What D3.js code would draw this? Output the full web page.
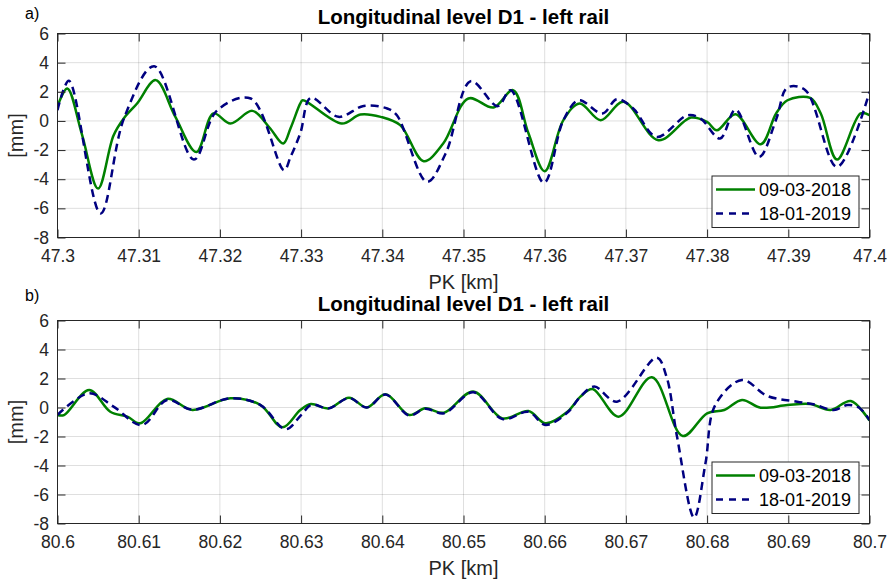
<!DOCTYPE html>
<html>
<head>
<meta charset="utf-8">
<script src="https://cdn.jsdelivr.net/npm/d3@7"></script>
<style>
  body { margin: 0; background: #fff; }
  svg { display: block; font-family: Arial, "Liberation Sans", Helvetica, sans-serif; }
</style>
</head>
<body>
<svg id="chart" width="888" height="579"></svg>
<script>
// --- data ---
const seriesNames = ["09-03-2018", "18-01-2019"];
const yTicks = [-8, -6, -4, -2, 0, 2, 4, 6];
const xTicksA = [47.30, 47.31, 47.32, 47.33, 47.34, 47.35, 47.36, 47.37, 47.38, 47.39, 47.40];
const xTicksB = [80.60, 80.61, 80.62, 80.63, 80.64, 80.65, 80.66, 80.67, 80.68, 80.69, 80.70];

// panel a) 47.3 - 47.4 km
const pkA2018 = [47.3000, 47.3012, 47.3030, 47.3050, 47.3069, 47.3082, 47.3098, 47.3121, 47.3145, 47.3171,
  47.3192, 47.3213, 47.3240, 47.3261, 47.3278, 47.3287, 47.3299, 47.3302, 47.3350, 47.3373,
  47.3398, 47.3422, 47.3451, 47.3475, 47.3506, 47.3537, 47.3561, 47.3580, 47.3600, 47.3623,
  47.3643, 47.3669, 47.3697, 47.3740, 47.3780, 47.3800, 47.3812, 47.3835, 47.3866, 47.3885,
  47.3899, 47.3927, 47.3940, 47.3960, 47.3989, 47.4000];
const levelA2018 = [1.00, 2.23, -0.90, -4.64, -1.00, 0.20, 1.20, 2.80, 0.30, -2.13,
  0.51, -0.18, 0.69, -0.45, -1.55, -0.50, 1.20, 1.42, -0.18, 0.44,
  0.28, -0.29, -2.76, -1.55, 1.54, 0.92, 2.11, -0.85, -3.45, 0.05,
  1.20, 0.05, 1.31, -1.32, 0.23, -0.07, -0.64, 0.46, -1.60, 0.51,
  1.42, 1.58, 0.51, -2.65, 0.51, 0.39];

const pkA2019 = [47.3000, 47.3014, 47.3053, 47.3082, 47.3119, 47.3168, 47.3196, 47.3238, 47.3279, 47.3287,
  47.3299, 47.3312, 47.3346, 47.3377, 47.3406, 47.3418, 47.3455, 47.3478, 47.3509, 47.3542,
  47.3558, 47.3599, 47.3623, 47.3642, 47.3671, 47.3689, 47.3709, 47.3738, 47.3776, 47.3792,
  47.3816, 47.3835, 47.3864, 47.3885, 47.3899, 47.3921, 47.3960, 47.4000];
const levelA2019 = [0.74, 2.75, -6.35, 0.20, 3.76, -2.65, 0.69, 1.54, -3.38, -2.47,
  -0.85, 1.58, 0.28, 1.03, 0.85, 0.39, -4.18, -2.24, 2.73, 1.01,
  2.11, -4.25, 0.05, 1.42, 0.51, 1.49, 0.85, -1.10, 0.39, 0.16,
  -1.21, 0.78, -2.47, 0.10, 2.29, 2.11, -3.16, 1.99];

// panel b) 80.6 - 80.7 km
const pkB2018 = [80.6000, 80.6008, 80.6039, 80.6065, 80.6086, 80.6102, 80.6135, 80.6166, 80.6213, 80.6250,
  80.6277, 80.6299, 80.6312, 80.6334, 80.6359, 80.6381, 80.6404, 80.6433, 80.6453, 80.6476,
  80.6512, 80.6548, 80.6580, 80.6601, 80.6628, 80.6644, 80.6659, 80.6691, 80.6732, 80.6770,
  80.6800, 80.6821, 80.6843, 80.6866, 80.6899, 80.6927, 80.6952, 80.6977, 80.7000];
const levelB2018 = [-0.52, -0.52, 1.21, -0.29, -0.63, -1.09, 0.59, -0.17, 0.64, 0.17,
  -1.37, -0.17, 0.24, -0.06, 0.68, 0.00, 0.91, -0.52, -0.06, -0.36,
  1.10, -0.75, -0.24, -1.09, -0.29, 0.75, 1.28, -0.63, 2.09, -1.97,
  -0.40, -0.17, 0.52, -0.01, 0.17, 0.24, -0.17, 0.45, -0.91];

const pkB2019 = [80.6000, 80.6039, 80.6069, 80.6104, 80.6135, 80.6166, 80.6213, 80.6250, 80.6281, 80.6300,
  80.6313, 80.6334, 80.6359, 80.6381, 80.6404, 80.6433, 80.6453, 80.6476, 80.6512, 80.6548,
  80.6580, 80.6601, 80.6628, 80.6644, 80.6661, 80.6689, 80.6738, 80.6750, 80.6763, 80.6784,
  80.6798, 80.6810, 80.6843, 80.6874, 80.6911, 80.6931, 80.6956, 80.6973, 80.6987, 80.7000];
const levelB2019 = [-0.50, 0.98, 0.06, -1.21, 0.52, -0.15, 0.64, 0.17, -1.50, -0.52,
  0.20, -0.06, 0.65, 0.00, 0.90, -0.55, -0.08, -0.40, 1.05, -0.80,
  -0.30, -1.20, -0.35, 0.75, 1.44, 0.40, 3.44, 2.13, -2.02, -7.59,
  -3.85, 0.17, 1.90, 0.80, 0.40, 0.22, -0.17, 0.17, 0.00, -0.86];

// --- drawing ---
const svg = d3.select("#chart");
const axisColor = "#262626";
const left = 57.5, right = 869.5;
const tickFont = "17.5px";

function drawPanel(p) {
  const g = svg.append("g");
  const x = d3.scaleLinear().domain([p.xTicks[0], p.xTicks[p.xTicks.length - 1]]).range([left, right]);
  const y = d3.scaleLinear().domain([-8, 6]).range([p.bottom, p.top]);

  // grid
  g.append("g").selectAll("line").data(p.xTicks.slice(1, -1)).join("line")
    .attr("x1", d => x(d)).attr("x2", d => x(d))
    .attr("y1", p.top).attr("y2", p.bottom)
    .attr("stroke", axisColor).attr("stroke-opacity", 0.15);
  g.append("g").selectAll("line").data(yTicks.slice(1, -1)).join("line")
    .attr("x1", left).attr("x2", right)
    .attr("y1", d => y(d)).attr("y2", d => y(d))
    .attr("stroke", axisColor).attr("stroke-opacity", 0.15);

  // curves
  const clipId = "clip-" + p.id;
  g.append("clipPath").attr("id", clipId).append("rect")
    .attr("x", left).attr("y", p.top).attr("width", right - left).attr("height", p.bottom - p.top);
  const line = d3.line().x(d => x(d[0])).y(d => y(d[1])).curve(d3.curveCatmullRom.alpha(0.5));
  const lines = g.append("g").attr("clip-path", `url(#${clipId})`);
  lines.append("path").datum(d3.zip(p.pk2018, p.level2018))
    .attr("d", line).attr("fill", "none").attr("stroke", "#008000").attr("stroke-width", 2.5);
  lines.append("path").datum(d3.zip(p.pk2019, p.level2019))
    .attr("d", line).attr("fill", "none").attr("stroke", "#000080").attr("stroke-width", 2.5)
    .attr("stroke-dasharray", "8,5");

  // axes (ticks point inward)
  const fmtX = d => String(+d.toFixed(2));
  const styleAxis = sel => {
    sel.select(".domain").remove();
    sel.selectAll("line").attr("stroke", axisColor);
    sel.selectAll("text").attr("fill", axisColor).style("font-size", tickFont);
  };
  g.append("g").attr("transform", `translate(0,${p.bottom})`)
    .call(d3.axisBottom(x).tickValues(p.xTicks).tickFormat(fmtX).tickSizeInner(-8).tickSizeOuter(0).tickPadding(12.5))
    .call(styleAxis);
  g.append("g").attr("transform", `translate(0,${p.top})`)
    .call(d3.axisTop(x).tickValues(p.xTicks).tickFormat("").tickSizeInner(-8).tickSizeOuter(0))
    .call(styleAxis);
  g.append("g").attr("transform", `translate(${left},0)`)
    .call(d3.axisLeft(y).tickValues(yTicks).tickFormat(d => String(d)).tickSizeInner(-8).tickSizeOuter(0).tickPadding(8.5))
    .call(styleAxis);
  g.append("g").attr("transform", `translate(${right},0)`)
    .call(d3.axisRight(y).tickValues(yTicks).tickFormat("").tickSizeInner(-8).tickSizeOuter(0))
    .call(styleAxis);

  g.append("rect")
    .attr("x", left).attr("y", p.top).attr("width", right - left).attr("height", p.bottom - p.top)
    .attr("fill", "none").attr("stroke", axisColor).attr("stroke-width", 1);

  // labels
  g.append("text").attr("x", (left + right) / 2).attr("y", p.top - 9.5)
    .attr("text-anchor", "middle").style("font-size", "20.5px").style("font-weight", "bold")
    .attr("fill", "#000").text("Longitudinal level D1 - left rail");
  g.append("text").attr("x", (left + right) / 2).attr("y", p.bottom + 51.5)
    .attr("text-anchor", "middle").style("font-size", "20px").attr("fill", axisColor).text("PK [km]");
  g.append("text").attr("transform", `translate(23,${(p.top + p.bottom) / 2}) rotate(-90)`)
    .attr("text-anchor", "middle").style("font-size", "20px").attr("fill", axisColor).text("[mm]");
  g.append("text").attr("x", 25).attr("y", p.letterY)
    .style("font-size", "16px").attr("fill", "#000").text(p.letter);

  // legend
  const lg = g.append("g").attr("transform", `translate(${right - 158},${p.bottom - 62})`);
  lg.append("rect").attr("x", 0.5).attr("y", 0.5).attr("width", 147).attr("height", 51.5)
    .attr("fill", "#fff").attr("stroke", axisColor).attr("stroke-width", 1);
  const items = [
    { name: seriesNames[0], color: "#008000", dash: null },
    { name: seriesNames[1], color: "#000080", dash: "7,6" }
  ];
  items.forEach((it, i) => {
    const cy = 14 + i * 24;
    lg.append("line").attr("x1", 4.5).attr("x2", 43.5).attr("y1", cy).attr("y2", cy)
      .attr("stroke", it.color).attr("stroke-width", 2.5).attr("stroke-dasharray", it.dash);
    lg.append("text").attr("x", 47.5).attr("y", cy).attr("dy", "0.36em")
      .style("font-size", "18px").attr("fill", "#000").text(it.name);
  });
}

drawPanel({
  id: "a", top: 33.5, bottom: 237.5, xTicks: xTicksA, letter: "a)", letterY: 19,
  pk2018: pkA2018, level2018: levelA2018, pk2019: pkA2019, level2019: levelA2019
});
drawPanel({
  id: "b", top: 320.5, bottom: 523.5, xTicks: xTicksB, letter: "b)", letterY: 301,
  pk2018: pkB2018, level2018: levelB2018, pk2019: pkB2019, level2019: levelB2019
});
</script>
</body>
</html>
